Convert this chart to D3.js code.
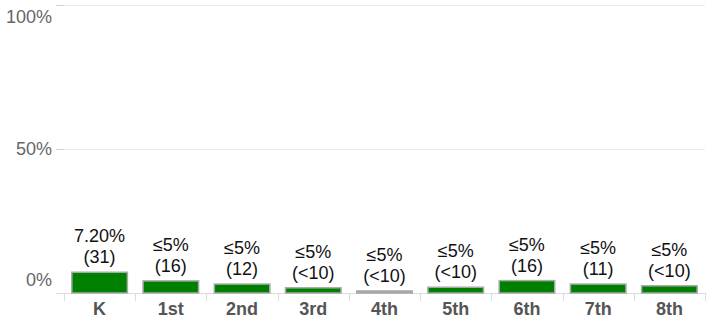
<!DOCTYPE html>
<html>
<head>
<meta charset="utf-8">
<script src="https://cdn.jsdelivr.net/npm/d3@7/dist/d3.min.js"></script>
<style>
  html, body { margin: 0; padding: 0; background: #fff; }
  svg { display: block; font-family: Arial, "Liberation Sans", sans-serif; }
</style>
</head>
<body>
<svg id="chart" width="713" height="322"></svg>
<script>
// Grade levels along the x axis
const grades = ["K", "1st", "2nd", "3rd", "4th", "5th", "6th", "7th", "8th"];
// Percent of students per grade
const percents = [7.2, 4.2, 3.1, 1.8, 0.7, 2.0, 4.3, 3.1, 2.5];
// Text shown above each bar
const pctLabels = ["7.20%", "≤5%", "≤5%", "≤5%", "≤5%", "≤5%", "≤5%", "≤5%", "≤5%"];
const countLabels = ["(31)", "(16)", "(12)", "(<10)", "(<10)", "(<10)", "(16)", "(11)", "(<10)"];
// Grades whose value is suppressed are drawn in grey
const suppressed = [false, false, false, false, true, false, false, false, false];
// Y axis ticks
const yTicks = [0, 50, 100];
const yTickLabels = ["0%", "50%", "100%"];

const svg = d3.select("#chart");
const plotLeft = 64, plotRight = 705, plotTop = 5, plotBottom = 293;

const x = d3.scaleBand().domain(grades).range([plotLeft, plotRight])
  .paddingInner(0.22).paddingOuter(0.11);
const y = d3.scaleLinear().domain([0, 100]).range([plotBottom, plotTop]);

// Horizontal gridlines
svg.append("g").selectAll("line").data(yTicks.filter(t => t > 0)).join("line")
  .attr("x1", plotLeft).attr("x2", plotRight)
  .attr("y1", d => y(d) + 0.5).attr("y2", d => y(d) + 0.5)
  .attr("stroke", "#ebebeb").attr("stroke-width", 1);

// Y tick marks
svg.append("g").selectAll("line").data(yTicks).join("line")
  .attr("x1", plotLeft - 8).attr("x2", plotLeft)
  .attr("y1", d => y(d) + 0.5).attr("y2", d => y(d) + 0.5)
  .attr("stroke", "#d4d4d4");

// Y tick labels, kept inside the plot's vertical extent
const yLabelY = d => d === 100 ? y(d) + 18 : (d === 0 ? y(d) - 7 : y(d) + 6);
svg.append("g").selectAll("text").data(yTicks).join("text")
  .attr("x", plotLeft - 12).attr("y", d => yLabelY(d))
  .attr("text-anchor", "end")
  .attr("font-size", 18).attr("fill", "#666")
  .text((d, i) => yTickLabels[i]);

// Baseline
svg.append("line")
  .attr("x1", plotLeft - 8).attr("x2", plotRight)
  .attr("y1", plotBottom + 0.5).attr("y2", plotBottom + 0.5)
  .attr("stroke", "#dcdcdc");

// Category boundary ticks
const boundaries = d3.range(grades.length + 1).map(i => plotLeft + i * (plotRight - plotLeft) / grades.length);
svg.append("g").selectAll("line").data(boundaries).join("line")
  .attr("x1", d => Math.round(d) + 0.5).attr("x2", d => Math.round(d) + 0.5)
  .attr("y1", plotBottom).attr("y2", plotBottom + 8)
  .attr("stroke", "#dcdcdc");

// Bars
svg.append("g").selectAll("rect").data(grades).join("rect")
  .attr("x", d => x(d))
  .attr("width", x.bandwidth())
  .attr("y", (d, i) => y(percents[i]))
  .attr("height", (d, i) => plotBottom - y(percents[i]))
  .attr("fill", (d, i) => suppressed[i] ? "#ababab" : "#008000")
  .attr("stroke", "#a8a8a8")
  .attr("stroke-width", 1.5);

// Value labels
const lab = svg.append("g").selectAll("text").data(grades).join("text")
  .attr("text-anchor", "middle")
  .attr("font-size", 18).attr("fill", "#111");
lab.append("tspan")
  .attr("x", d => x(d) + x.bandwidth() / 2)
  .attr("y", (d, i) => y(percents[i]) - 30)
  .text((d, i) => pctLabels[i]);
lab.append("tspan")
  .attr("x", d => x(d) + x.bandwidth() / 2)
  .attr("y", (d, i) => y(percents[i]) - 9)
  .text((d, i) => countLabels[i]);

// Category labels
svg.append("g").selectAll("text").data(grades).join("text")
  .attr("x", d => x(d) + x.bandwidth() / 2)
  .attr("y", 315)
  .attr("text-anchor", "middle")
  .attr("font-size", 18).attr("font-weight", "bold").attr("fill", "#555")
  .text(d => d);
</script>
</body>
</html>
